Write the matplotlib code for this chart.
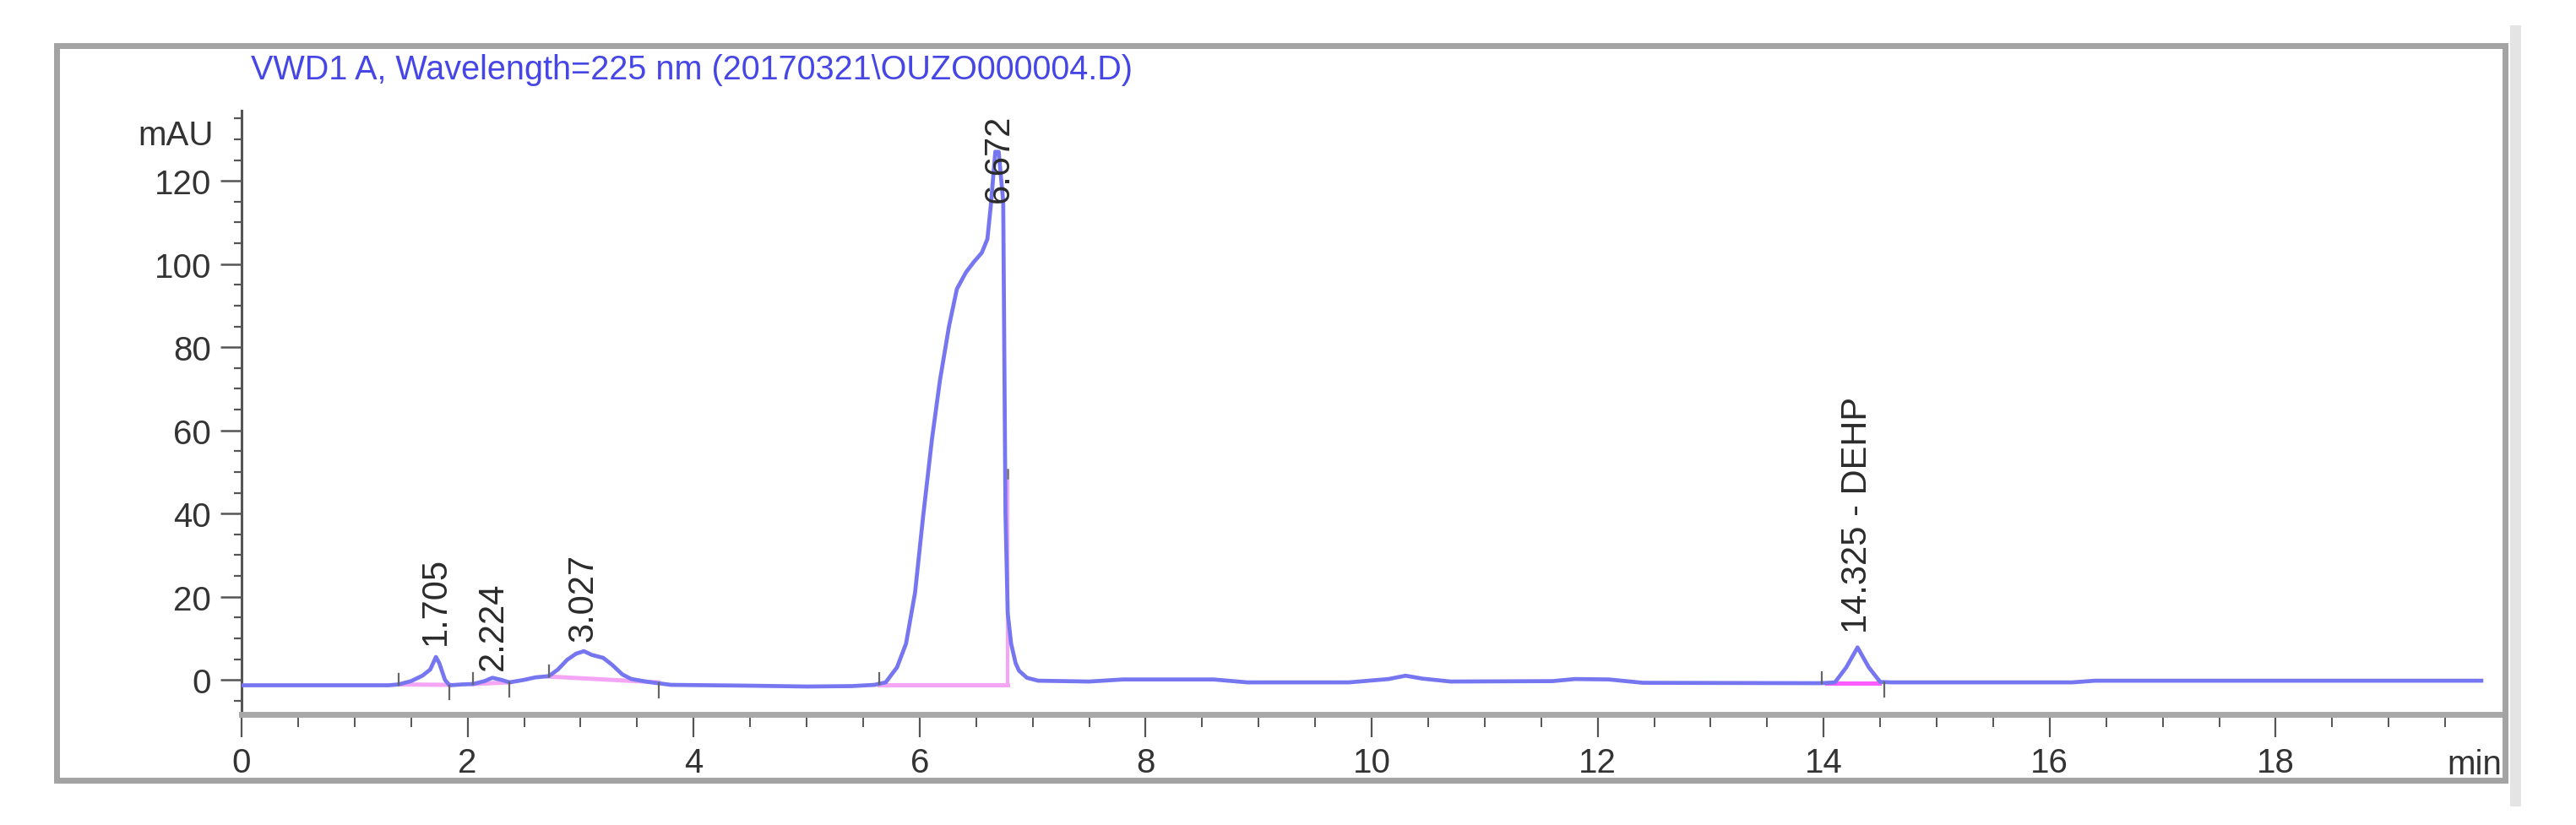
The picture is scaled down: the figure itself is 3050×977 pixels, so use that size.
"""HPLC chromatogram (VWD1 A, 225 nm) redrawn from the published figure."""

import numpy as np
from matplotlib import pyplot as plt
from matplotlib.patches import Rectangle

plt.rcParams["font.family"] = ["Liberation Sans", "DejaVu Sans"]

TITLE = r"VWD1 A, Wavelength=225 nm (20170321\OUZO000004.D)"

# signal trace (time in min, signal in mAU)
trace_t = [
    0.0, 1.3, 1.39, 1.5, 1.6, 1.67, 1.72, 1.75, 1.8, 1.84, 1.95, 2.05, 2.15,
    2.22, 2.3, 2.37, 2.5, 2.6, 2.72, 2.8, 2.88, 2.96, 3.03, 3.1, 3.2, 3.28,
    3.37, 3.45, 3.6, 3.8, 4.5, 5.0, 5.4, 5.6, 5.7, 5.8, 5.88, 5.96, 6.03,
    6.11, 6.18, 6.26, 6.33, 6.41, 6.48, 6.55, 6.6, 6.63, 6.67, 6.70, 6.74,
    6.76, 6.78, 6.81, 6.85, 6.88, 6.95, 7.05, 7.5, 7.8, 8.6, 8.9, 9.8, 10.15,
    10.3, 10.45, 10.7, 11.6, 11.8, 12.1, 12.4, 13.98, 14.1, 14.2, 14.3, 14.4,
    14.5, 14.6, 16.2, 16.4, 19.82,
]
trace_mau = [
    -1.3, -1.3, -1.1, -0.3, 1.0, 2.5, 5.5, 4.0, 0.0, -1.3, -1.1, -1.0, -0.3,
    0.5, 0.0, -0.6, 0.0, 0.6, 0.9, 2.5, 4.8, 6.3, 6.9, 6.0, 5.3, 3.6,
    1.3, 0.2, -0.5, -1.2, -1.4, -1.6, -1.5, -1.2, -0.6, 3.0, 8.7, 21.0, 39.0,
    58.0, 72.0, 85.0, 94.0, 98.0, 100.5, 102.7, 106.0, 114.0, 127.0, 127.0, 115.0,
    40.0, 16.0, 8.7, 4.0, 2.2, 0.5, -0.2, -0.4, 0.1, 0.1, -0.6, -0.6, 0.2,
    1.0, 0.3, -0.4, -0.3, 0.2, 0.1, -0.7, -0.8, -0.6, 3.0, 7.8, 3.0,
    -0.5, -0.6, -0.6, -0.2, -0.2,
]

# integration baselines: (start time, start mAU, end time, end mAU)
baseline_start_t = [1.39, 2.05, 2.72, 5.64, 14.03]
baseline_start_mau = [-1.1, -1.0, 0.8, -1.2, -0.8]
baseline_end_t = [1.84, 2.37, 3.69, 6.78, 14.49]
baseline_end_mau = [-1.2, -0.6, -0.6, -1.2, -0.8]
drop_t, drop_top = 6.78, 50.0

# peak start / end event marks
event_up_t = [1.39, 2.05, 2.72, 5.64, 13.98]
event_down_t = [1.84, 2.37, 3.69, 14.54]

# peak labels
peak_t = [1.72, 2.23, 3.02, 6.70, 14.30]
peak_labels = ["1.705", "2.224", "3.027", "6.672", "14.325 - DEHP"]
label_offsets = [11, 7, 9, -43, 13]  # points above the apex

W, H = 3050, 978
fig = plt.figure(figsize=(W / 100, H / 100), dpi=100)

# outer frame of the report page
fig.patches.append(Rectangle((67 / W, (H - 925) / H), (2966 - 67) / W, (925 - 55) / H,
                             transform=fig.transFigure, fill=False,
                             edgecolor="#a3a3a3", linewidth=5))
fig.patches.append(Rectangle((2972 / W, (H - 956) / H), 13 / W, (956 - 31) / H,
                             transform=fig.transFigure, facecolor="#e4e4e4",
                             edgecolor="none"))

ax = fig.add_axes([286 / W, (H - 847) / H, (2962 - 286) / W, (847 - 132) / H])
ax.set_xlim(0, 20)
ax.set_ylim(-8.3, 136.9)

trace_t_arr = np.array(trace_t)
trace_mau_arr = np.array(trace_mau)
ax.plot(trace_t_arr, trace_mau_arr, color="#7676f0", lw=3.4, zorder=3,
        solid_joinstyle="round")

for t0, y0, t1, y1 in zip(baseline_start_t, baseline_start_mau,
                          baseline_end_t, baseline_end_mau):
    col = "#ff5cff" if t0 > 14 else "#f4a6f4"
    ax.plot([t0, t1], [y0, y1], color=col, lw=3.6, zorder=2)
ax.plot([drop_t, drop_t], [baseline_end_mau[3], drop_top], color="#f4a6f4",
        lw=3.0, zorder=2)
ax.plot([drop_t, drop_t], [drop_top - 1.5, drop_top + 0.5], color="#777", lw=1.8,
        zorder=4)

for t in event_up_t:
    y = np.interp(t, trace_t_arr, trace_mau_arr)
    ax.plot([t, t], [y, y + 2.6], color="#666", lw=1.6, zorder=4)
for t in event_down_t:
    y = np.interp(t, trace_t_arr, trace_mau_arr)
    ax.plot([t, t], [y, y - 3.4], color="#666", lw=1.6, zorder=4)

for t, text, off in zip(peak_t, peak_labels, label_offsets):
    near = (trace_t_arr > t - 0.08) & (trace_t_arr < t + 0.08)
    apex = trace_mau_arr[near].max()
    ax.annotate(text, (t, apex), xytext=(0, off), textcoords="offset points",
                rotation=90, ha="center", va="bottom", fontsize=30,
                color="#2b2b2b", zorder=5)

ax.set_xticks(np.arange(0, 19, 2))
ax.set_xticks(np.arange(0, 20, 0.5), minor=True)
ax.set_yticks(np.arange(0, 121, 20))
ax.set_yticks(np.arange(-5, 136, 5), minor=True)

ax.tick_params(axis="x", which="major", direction="out", length=19.5, width=1.6,
               color="#555", pad=8, labelsize=29, labelcolor="#333")
ax.tick_params(axis="x", which="minor", direction="out", length=10.5, width=1.4,
               color="#555")
ax.tick_params(axis="y", which="major", direction="out", length=18, width=1.8,
               color="#555", pad=8, labelsize=29, labelcolor="#333")
ax.tick_params(axis="y", which="minor", direction="out", length=6.5, width=1.6,
               color="#555")

for side in ("top", "right"):
    ax.spines[side].set_visible(False)
ax.spines["bottom"].set_color("#a8a8a8")
ax.spines["bottom"].set_linewidth(5)
ax.spines["left"].set_color("#555")
ax.spines["left"].set_linewidth(2.2)
ax.patch.set_alpha(0)

ax.text(-0.0123, 131, "mAU", transform=ax.get_yaxis_transform(), ha="right",
        va="center", fontsize=29, color="#333")
ax.text(1.0, -0.0825, "min", transform=ax.transAxes, ha="right", va="center",
        fontsize=29, color="#333")

fig.text(297 / W, 1 - 83 / H, TITLE, ha="left", va="center", fontsize=28.5,
         color="#4646e6")

fig.savefig("out.png", dpi=100)
plt.close(fig)
